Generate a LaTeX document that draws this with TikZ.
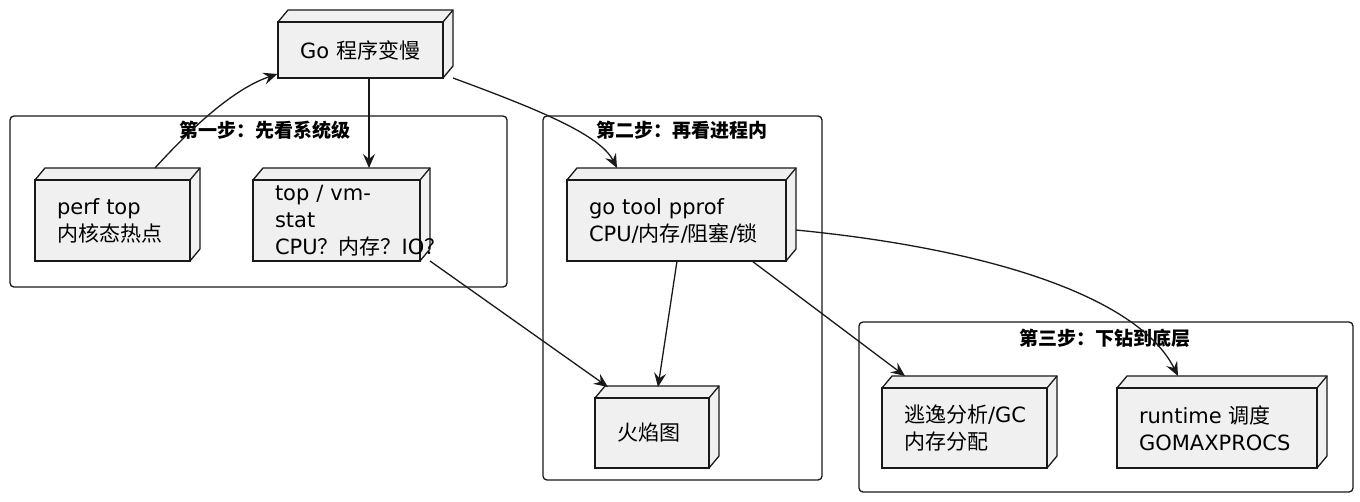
\documentclass[tikz,border=0pt]{standalone}
\usepackage{fontspec}
\setmainfont{DejaVu Sans}
\newfontfamily\cjk{Noto Sans CJK SC}
\usetikzlibrary{arrows.meta}

% 3D box: name, x1, y1, x2, y2, text
\newcommand\cubenode[6]{%
  \fill[boxfill] (#2,#3) -- ++(10,-12) -- (#4+10,#3-12) -- (#4+10,#5-12) -- (#4,#5) -- (#4,#3) -- cycle;
  \draw[boxline] (#2,#3) -- ++(10,-12) -- (#4+10,#3-12) -- (#4+10,#5-12) -- (#4,#5);
  \draw[boxline] (#4,#3) -- (#4+10,#3-12);
  \node[cube, minimum width=#4-#2, minimum height=#5-#3, text width=#4-#2-44] (#1) at ({(#2+#4)/2},{(#3+#5)/2}) {#6};
}

\begin{document}
\begin{tikzpicture}[x=1pt, y=-1pt,
    boxfill/.style={fill=black!6},
    boxline/.style={draw=black!90, line width=1.3pt},
    cube/.style={rectangle, fill=black!6, draw=black!90, line width=1.3pt, align=left, inner sep=0pt, font=\fontsize{21}{27}\selectfont},
    group/.style={draw=black!90, line width=1.3pt, rounded corners=4pt},
    title/.style={font=\fontsize{19}{22}\selectfont\cjk\bfseries},
    link/.style={draw=black!90, line width=1.3pt, -{Stealth[length=14pt, width=12pt, inset=5pt]}}
  ]
  \useasboundingbox (0,0) rectangle (1360,501);
  % groups
  \draw[group] (10,116) rectangle (507,287);
  \node[title] (stepone) at (265,130) {第一步：先看系统级};
  \draw[group] (543,116) rectangle (822,480);
  \node[title] (steptwo) at (682,130) {第二步：再看进程内};
  \draw[group] (859,322) rectangle (1353,492);
  \node[title] (stepthree) at (1105,338) {第三步：下钻到底层};
  % nodes
  \cubenode{slow}{278}{22}{443}{78}{Go {\cjk 程序变慢}}
  \cubenode{perf}{35}{180}{190}{261}{perf top\\{\cjk 内核态热点}}
  \cubenode{vmstat}{253}{180}{420}{261}{top / vmstat\\CPU{\cjk ？内存？}IO{\cjk ？}}
  \cubenode{pprof}{567}{180}{786}{261}{go tool pprof\\CPU/{\cjk 内存}/{\cjk 阻塞}/{\cjk 锁}}
  \cubenode{flame}{595}{398}{709}{468}{{\cjk 火焰图}}
  \cubenode{escape}{882}{388}{1047}{468}{{\cjk 逃逸分析}/GC\\{\cjk 内存分配}}
  \cubenode{runtime}{1117}{388}{1317}{468}{runtime {\cjk 调度}\\GOMAXPROCS}
  % connectors
  \draw[link] (155,168) .. controls (185,135) and (230,90) .. (slow.west |- 0,74);
  \draw[link] (369,78) -- (369,168);
  \draw[link] (453,78) .. controls (540,110) and (600,135) .. (617,168);
  \draw[link] (430,261) -- (608,387);
  \draw[link] (677,261) -- (658,387);
  \draw[link] (752,261) -- (905,376);
  \draw[link] (796,230) .. controls (1000,250) and (1140,300) .. (1178,376);
\end{tikzpicture}
\end{document}
